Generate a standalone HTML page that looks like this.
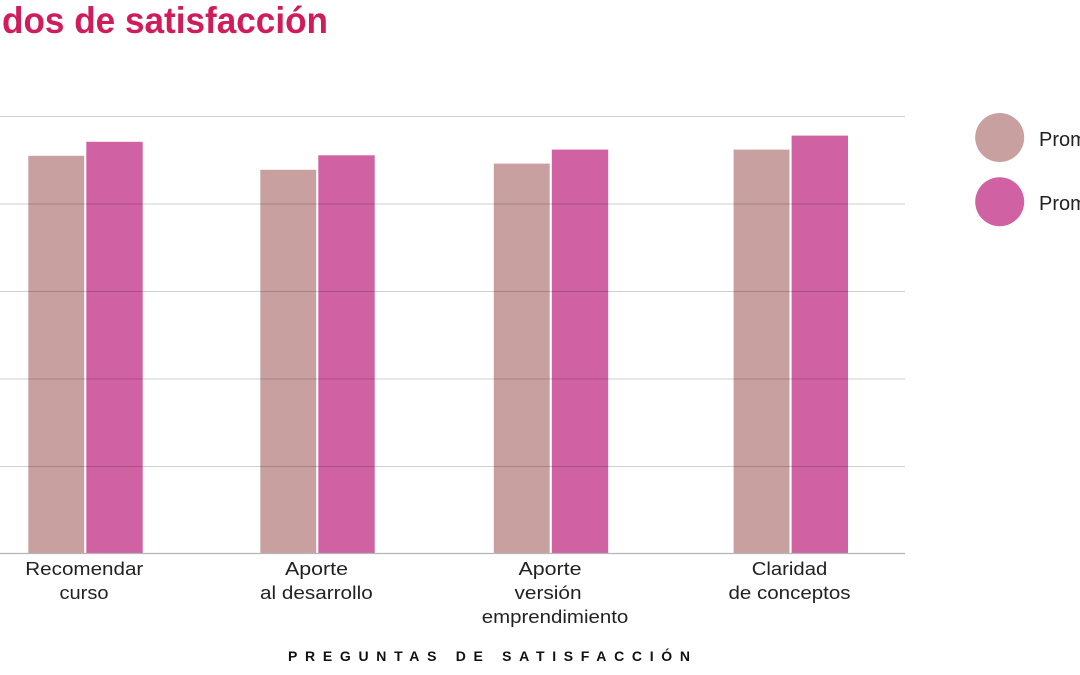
<!DOCTYPE html>
<html>
<head>
<meta charset="utf-8">
<style>
html,body{margin:0;padding:0;background:#fff;}
body{width:1080px;height:675px;overflow:hidden;}
svg{display:block;}
text{font-family:"Liberation Sans",sans-serif;}
</style>
</head>
<body>
<svg width="1080" height="675" viewBox="0 0 1080 675" xmlns="http://www.w3.org/2000/svg">
  <rect width="1080" height="675" fill="#fff"/>
  <!-- title -->
  <text x="2" y="33" font-size="37" font-weight="bold" fill="#d01c5b" textLength="326" lengthAdjust="spacingAndGlyphs">dos de satisfacción</text>

  <!-- bars -->
  <g stroke="#fff" stroke-width="0.6">
    <rect x="28" y="155.5" width="56.5" height="398" fill="#c9a0a0"/>
    <rect x="86" y="141.5" width="57" height="412" fill="#d062a3"/>

    <rect x="260" y="169.5" width="56.5" height="384" fill="#c9a0a0"/>
    <rect x="318" y="155" width="57" height="398.5" fill="#d062a3"/>

    <rect x="493.5" y="163.3" width="56.5" height="390.2" fill="#c9a0a0"/>
    <rect x="551.5" y="149.3" width="57" height="404.2" fill="#d062a3"/>

    <rect x="733.3" y="149.3" width="56.5" height="404.2" fill="#c9a0a0"/>
    <rect x="791.3" y="135.3" width="57" height="418.2" fill="#d062a3"/>
  </g>

  <!-- gridlines (semi-transparent, on top) -->
  <g stroke="rgba(0,0,0,0.19)" stroke-width="1">
    <line x1="0" y1="116.5" x2="905" y2="116.5"/>
    <line x1="0" y1="204" x2="905" y2="204"/>
    <line x1="0" y1="291.5" x2="905" y2="291.5"/>
    <line x1="0" y1="379" x2="905" y2="379"/>
    <line x1="0" y1="466.5" x2="905" y2="466.5"/>
  </g>
  <line x1="0" y1="553.5" x2="905" y2="553.5" stroke="#b5b5b5" stroke-width="1.2"/>

  <!-- category labels -->
  <g font-size="18.5" fill="#222" text-anchor="middle">
    <text x="84.3" y="575" textLength="118" lengthAdjust="spacingAndGlyphs">Recomendar</text>
    <text x="84" y="599" textLength="49" lengthAdjust="spacingAndGlyphs">curso</text>

    <text x="316.5" y="575" textLength="63" lengthAdjust="spacingAndGlyphs">Aporte</text>
    <text x="316.4" y="599" textLength="112.7" lengthAdjust="spacingAndGlyphs">al desarrollo</text>

    <text x="550" y="575" textLength="63" lengthAdjust="spacingAndGlyphs">Aporte</text>
    <text x="548" y="599" textLength="67" lengthAdjust="spacingAndGlyphs">versión</text>
    <text x="555" y="623" textLength="146.5" lengthAdjust="spacingAndGlyphs">emprendimiento</text>

    <text x="789.5" y="575" textLength="75.5" lengthAdjust="spacingAndGlyphs">Claridad</text>
    <text x="789.5" y="599" textLength="122" lengthAdjust="spacingAndGlyphs">de conceptos</text>
  </g>

  <!-- axis title -->
  <text x="288" y="661" font-size="14" font-weight="bold" fill="#111" textLength="402" lengthAdjust="spacing">PREGUNTAS DE SATISFACCIÓN</text>

  <!-- legend -->
  <circle cx="999.7" cy="137.5" r="24.5" fill="#c9a0a0"/>
  <circle cx="999.7" cy="201.7" r="24.5" fill="#d062a3"/>
  <g font-size="20" fill="#222">
    <text x="1039" y="146">Promedio</text>
    <text x="1039" y="210">Promedio</text>
  </g>
</svg>
</body>
</html>
